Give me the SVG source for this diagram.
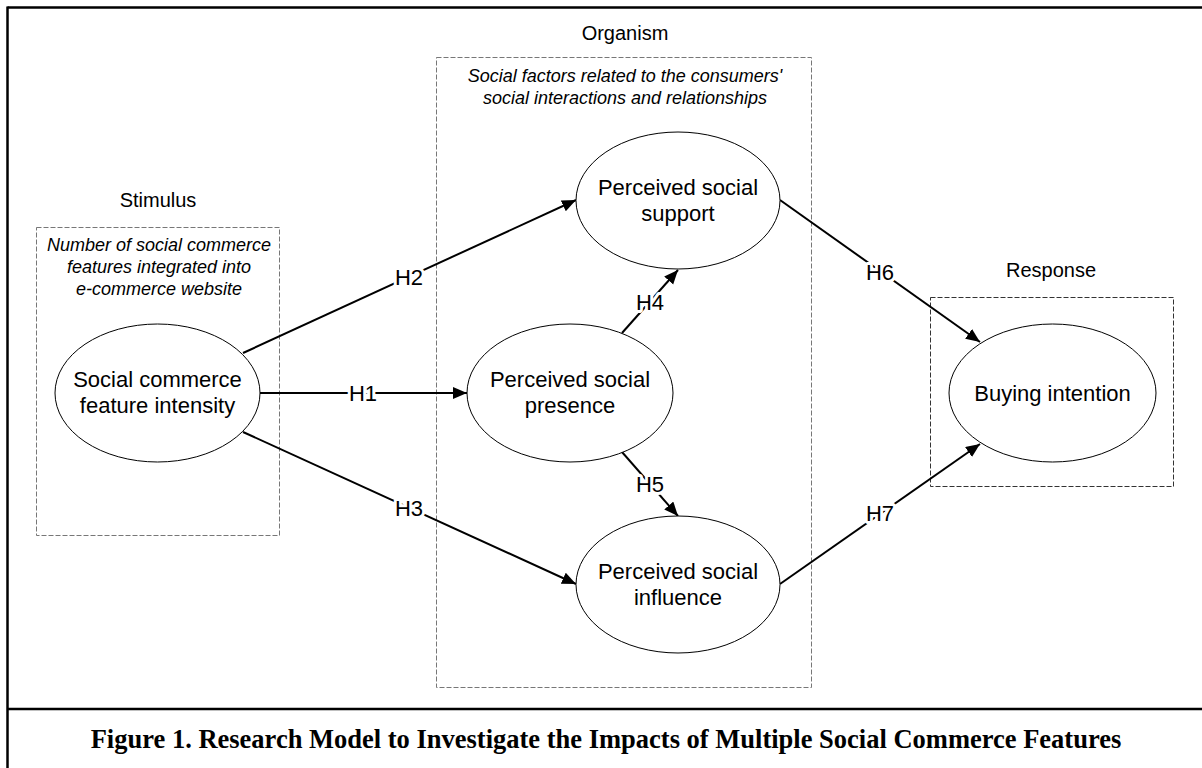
<svg xmlns="http://www.w3.org/2000/svg" width="1202" height="768" viewBox="0 0 1202 768">
  <style>
    .frame { stroke: #000; stroke-width: 2.5; fill: none; }
    .box { fill: none; stroke: #777; stroke-width: 1; stroke-dasharray: 5 2; }
    .box-dark { fill: none; stroke: #333; stroke-width: 1; stroke-dasharray: 5 2; }
    .node { fill: #fff; stroke: #000; stroke-width: 1; }
    .conn { stroke: #000; stroke-width: 2; fill: none; }
    .ntext { font-family: "Liberation Sans", Arial, sans-serif; font-size: 22px; fill: #000; text-anchor: middle; }
    .head { font-family: "Liberation Sans", Arial, sans-serif; font-size: 20px; fill: #000; text-anchor: middle; }
    .note { font-family: "Liberation Sans", Arial, sans-serif; font-size: 18px; font-style: italic; fill: #000; text-anchor: middle; }
    .hlabel { font-family: "Liberation Sans", Arial, sans-serif; font-size: 22px; fill: #000; text-anchor: middle; stroke: #fff; stroke-width: 6; paint-order: stroke; stroke-linejoin: round; }
    .caption { font-family: "Liberation Serif", "Times New Roman", serif; font-size: 26.5px; font-weight: bold; fill: #000; text-anchor: middle; }
  </style>
  <defs>
    <marker id="arrow" markerUnits="userSpaceOnUse" markerWidth="15" markerHeight="13" refX="14" refY="6" orient="auto">
      <path d="M0,0 L14,6 L0,12 Z" fill="#000"/>
    </marker>
  </defs>

  <rect width="1202" height="768" fill="#fff"/>

  <g id="frame">
    <line class="frame" x1="7.5" y1="7.5" x2="1202" y2="7.5"/>
    <line class="frame" x1="7.5" y1="6.5" x2="7.5" y2="768"/>
    <line class="frame" x1="7.5" y1="709" x2="1202" y2="709"/>
    <text class="caption" x="606" y="748">Figure 1. Research Model to Investigate the Impacts of Multiple Social Commerce Features</text>
  </g>

  <g id="stimulus">
    <text class="head" x="158" y="207">Stimulus</text>
    <rect class="box" x="36.5" y="227.5" width="243" height="308"/>
    <text class="note" x="159" y="251">Number of social commerce</text>
    <text class="note" x="159" y="273">features integrated into</text>
    <text class="note" x="159" y="295">e-commerce website</text>
  </g>

  <g id="organism">
    <text class="head" x="625" y="40">Organism</text>
    <rect class="box" x="436.5" y="57.5" width="375" height="630"/>
    <text class="note" x="625" y="82">Social factors related to the consumers'</text>
    <text class="note" x="625" y="104">social interactions and relationships</text>
  </g>

  <g id="response">
    <text class="head" x="1051" y="277">Response</text>
    <rect class="box-dark" x="930.5" y="297.5" width="243" height="189"/>
  </g>

  <g id="connectors">
    <line class="conn" x1="260" y1="393" x2="467" y2="393" marker-end="url(#arrow)"/>
    <line class="conn" x1="243" y1="353" x2="576" y2="200" marker-end="url(#arrow)"/>
    <line class="conn" x1="243" y1="432" x2="576" y2="584" marker-end="url(#arrow)"/>
    <line class="conn" x1="622" y1="333" x2="678" y2="270" marker-end="url(#arrow)"/>
    <line class="conn" x1="622" y1="452" x2="678" y2="516" marker-end="url(#arrow)"/>
    <line class="conn" x1="780" y1="200" x2="980" y2="342" marker-end="url(#arrow)"/>
    <line class="conn" x1="780" y1="584" x2="980" y2="444" marker-end="url(#arrow)"/>
    <text class="hlabel" x="363" y="401">H1</text>
    <text class="hlabel" x="409" y="285">H2</text>
    <text class="hlabel" x="409" y="516">H3</text>
    <text class="hlabel" x="650" y="310">H4</text>
    <text class="hlabel" x="650" y="492">H5</text>
    <text class="hlabel" x="880" y="280">H6</text>
    <text class="hlabel" x="880" y="521">H7</text>
  </g>

  <g id="node-intensity">
    <ellipse class="node" cx="157.5" cy="393" rx="102.5" ry="69"/>
    <text class="ntext" x="157.5" y="387">Social commerce</text>
    <text class="ntext" x="157.5" y="413">feature intensity</text>
  </g>

  <g id="node-presence">
    <ellipse class="node" cx="570" cy="393" rx="103" ry="69"/>
    <text class="ntext" x="570" y="387">Perceived social</text>
    <text class="ntext" x="570" y="413">presence</text>
  </g>

  <g id="node-support">
    <ellipse class="node" cx="678" cy="200.5" rx="102" ry="68.5"/>
    <text class="ntext" x="678" y="194.5">Perceived social</text>
    <text class="ntext" x="678" y="220.5">support</text>
  </g>

  <g id="node-influence">
    <ellipse class="node" cx="678" cy="584.5" rx="102" ry="68.5"/>
    <text class="ntext" x="678" y="578.5">Perceived social</text>
    <text class="ntext" x="678" y="604.5">influence</text>
  </g>

  <g id="node-buying">
    <ellipse class="node" cx="1052.5" cy="393" rx="103.5" ry="69"/>
    <text class="ntext" x="1052.5" y="401">Buying intention</text>
  </g>
</svg>
